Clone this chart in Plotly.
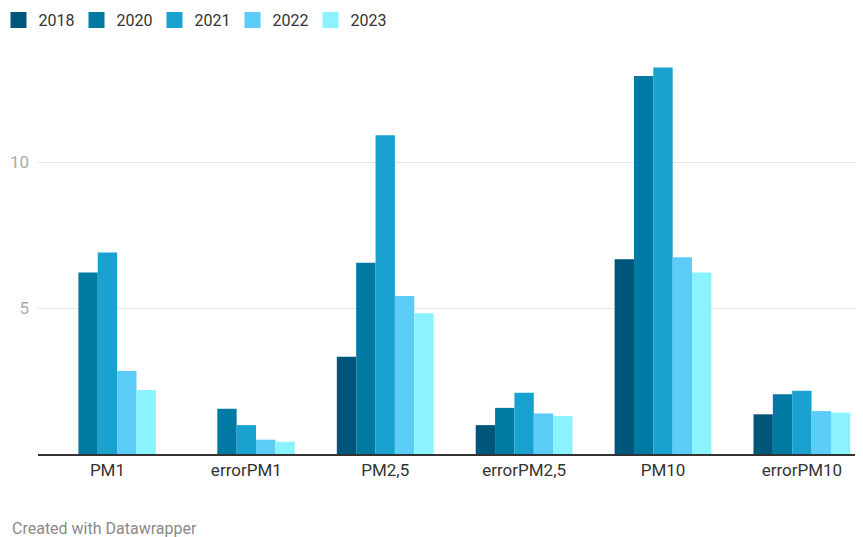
import plotly.graph_objects as go

categories = ["PM1", "errorPM1", "PM2,5", "errorPM2,5", "PM10", "errorPM10"]
years = ["2018", "2020", "2021", "2022", "2023"]
v2018 = [None, None, 3.33, 0.99, 6.67, 1.36]
v2020 = [6.22, 1.55, 6.55, 1.58, 12.95, 2.05]
v2021 = [6.90, 0.99, 10.92, 2.10, 13.24, 2.17]
v2022 = [2.84, 0.49, 5.41, 1.39, 6.74, 1.47]
v2023 = [2.19, 0.42, 4.82, 1.30, 6.22, 1.42]
series = [v2018, v2020, v2021, v2022, v2023]
colors = ["#00557a", "#0079a3", "#19a2cf", "#5bcbf7", "#8bf3ff"]
ytick_vals = [5, 10]

fig = go.Figure()
for name, vals, col in zip(years, series, colors):
    fig.add_trace(go.Bar(x=categories, y=vals, name=name, marker=dict(color=col, line=dict(width=0)),
                         showlegend=False))
for name, col in zip(years, colors):
    fig.add_trace(go.Scatter(x=[None], y=[None], mode="markers", name=name,
                             marker=dict(symbol="square", size=20, color=col), showlegend=True))

PW, PH = 825, 394
fig.update_layout(
    width=855, height=529,
    margin=dict(l=30, r=0, t=52, b=83, autoexpand=False),
    paper_bgcolor="white", plot_bgcolor="white",
    font=dict(family="Roboto", size=16, color="#333333"),
    barmode="group", bargap=0.303, bargroupgap=0,
    legend=dict(orientation="h", x=-39.5/PW, y=1 + 57/PH, xref="paper", yref="paper",
                xanchor="left", yanchor="top", font=dict(size=16, color="#333333"),
                itemwidth=30, tracegroupgap=0, bgcolor="rgba(0,0,0,0)",
                entrywidth=33, entrywidthmode="pixels"),
    xaxis=dict(range=[-0.5, 5.44], showgrid=False, showline=True, linecolor="#333333",
               linewidth=2, ticks="", tickfont=dict(size=17, color="#333333"), fixedrange=True),
    yaxis=dict(range=[0, 13.5], tickvals=ytick_vals, showgrid=True, gridcolor="#e6e6e6",
               gridwidth=1, zeroline=False, showline=False, ticks="",
               tickfont=dict(size=17, color="#aaaaaa"), ticklabelstandoff=8),
)
fig.add_annotation(text="Created with Datawrapper", xref="paper", yref="paper",
                   x=-28/PW, y=-74/PH, xanchor="left", yanchor="middle", showarrow=False,
                   font=dict(size=16, color="#8a8a8a"))
fig.write_html("out.html")
